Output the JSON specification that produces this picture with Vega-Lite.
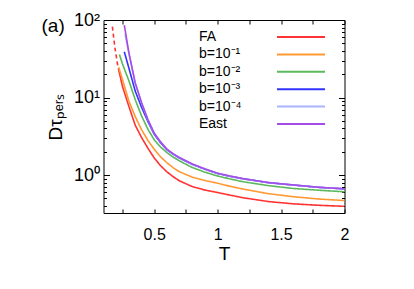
{
  "$schema": "https://vega.github.io/schema/vega-lite/v6.json",
  "width": 241,
  "height": 193,
  "autosize": {"type": "none"},
  "padding": {"left": 103.5, "top": 20, "right": 69.5, "bottom": 76},
  "background": "white",
  "config": {
    "font": "Liberation Sans",
    "view": {"stroke": "black", "strokeWidth": 1},
    "axis": {"domain": false, "grid": false, "tickColor": "black", "labelColor": "black", "titleColor": "black", "labelFont": "Liberation Sans", "titleFont": "Liberation Sans", "titleFontWeight": "normal"},
    "legend": {"labelFont": "Liberation Sans"}
  },
  "title": {"text": "(a)", "anchor": "start", "frame": "group", "dx": -62, "dy": 34, "fontSize": 19, "fontWeight": "normal", "font": "Liberation Sans", "offset": 0, "baseline": "middle", "color": "black"},
  "datasets": {
    "curves": [
      {"T": 0.17, "D": 82, "series": "FA", "segment": "dashed"},
      {"T": 0.19, "D": 44, "series": "FA", "segment": "dashed"},
      {"T": 0.212, "D": 26, "series": "FA", "segment": "dashed"},
      {"T": 0.217, "D": 23.8, "series": "FA", "segment": "solid"},
      {"T": 0.25, "D": 13.8, "series": "FA", "segment": "solid"},
      {"T": 0.3, "D": 7.7, "series": "FA", "segment": "solid"},
      {"T": 0.35, "D": 4.4, "series": "FA", "segment": "solid"},
      {"T": 0.4, "D": 3.05, "series": "FA", "segment": "solid"},
      {"T": 0.45, "D": 2.22, "series": "FA", "segment": "solid"},
      {"T": 0.5, "D": 1.66, "series": "FA", "segment": "solid"},
      {"T": 0.55, "D": 1.32, "series": "FA", "segment": "solid"},
      {"T": 0.6, "D": 1.1, "series": "FA", "segment": "solid"},
      {"T": 0.65, "D": 0.95, "series": "FA", "segment": "solid"},
      {"T": 0.7, "D": 0.84, "series": "FA", "segment": "solid"},
      {"T": 0.8, "D": 0.71, "series": "FA", "segment": "solid"},
      {"T": 0.9, "D": 0.64, "series": "FA", "segment": "solid"},
      {"T": 1.0, "D": 0.595, "series": "FA", "segment": "solid"},
      {"T": 1.1, "D": 0.55, "series": "FA", "segment": "solid"},
      {"T": 1.2, "D": 0.51, "series": "FA", "segment": "solid"},
      {"T": 1.4, "D": 0.455, "series": "FA", "segment": "solid"},
      {"T": 1.6, "D": 0.425, "series": "FA", "segment": "solid"},
      {"T": 1.8, "D": 0.407, "series": "FA", "segment": "solid"},
      {"T": 2.0, "D": 0.395, "series": "FA", "segment": "solid"},

      {"T": 0.22, "D": 24.5, "series": "b=10⁻¹", "segment": "solid"},
      {"T": 0.25, "D": 17, "series": "b=10⁻¹", "segment": "solid"},
      {"T": 0.3, "D": 9.0, "series": "b=10⁻¹", "segment": "solid"},
      {"T": 0.35, "D": 5.7, "series": "b=10⁻¹", "segment": "solid"},
      {"T": 0.4, "D": 3.85, "series": "b=10⁻¹", "segment": "solid"},
      {"T": 0.45, "D": 2.8, "series": "b=10⁻¹", "segment": "solid"},
      {"T": 0.5, "D": 2.15, "series": "b=10⁻¹", "segment": "solid"},
      {"T": 0.55, "D": 1.72, "series": "b=10⁻¹", "segment": "solid"},
      {"T": 0.6, "D": 1.44, "series": "b=10⁻¹", "segment": "solid"},
      {"T": 0.65, "D": 1.24, "series": "b=10⁻¹", "segment": "solid"},
      {"T": 0.7, "D": 1.1, "series": "b=10⁻¹", "segment": "solid"},
      {"T": 0.8, "D": 0.94, "series": "b=10⁻¹", "segment": "solid"},
      {"T": 0.9, "D": 0.85, "series": "b=10⁻¹", "segment": "solid"},
      {"T": 1.0, "D": 0.785, "series": "b=10⁻¹", "segment": "solid"},
      {"T": 1.1, "D": 0.715, "series": "b=10⁻¹", "segment": "solid"},
      {"T": 1.2, "D": 0.66, "series": "b=10⁻¹", "segment": "solid"},
      {"T": 1.4, "D": 0.575, "series": "b=10⁻¹", "segment": "solid"},
      {"T": 1.6, "D": 0.525, "series": "b=10⁻¹", "segment": "solid"},
      {"T": 1.8, "D": 0.49, "series": "b=10⁻¹", "segment": "solid"},
      {"T": 2.0, "D": 0.469, "series": "b=10⁻¹", "segment": "solid"},

      {"T": 0.225, "D": 36, "series": "b=10⁻²", "segment": "solid"},
      {"T": 0.25, "D": 27, "series": "b=10⁻²", "segment": "solid"},
      {"T": 0.3, "D": 16.5, "series": "b=10⁻²", "segment": "solid"},
      {"T": 0.35, "D": 9.4, "series": "b=10⁻²", "segment": "solid"},
      {"T": 0.4, "D": 5.8, "series": "b=10⁻²", "segment": "solid"},
      {"T": 0.45, "D": 3.9, "series": "b=10⁻²", "segment": "solid"},
      {"T": 0.5, "D": 2.85, "series": "b=10⁻²", "segment": "solid"},
      {"T": 0.55, "D": 2.3, "series": "b=10⁻²", "segment": "solid"},
      {"T": 0.6, "D": 1.95, "series": "b=10⁻²", "segment": "solid"},
      {"T": 0.65, "D": 1.7, "series": "b=10⁻²", "segment": "solid"},
      {"T": 0.7, "D": 1.52, "series": "b=10⁻²", "segment": "solid"},
      {"T": 0.8, "D": 1.25, "series": "b=10⁻²", "segment": "solid"},
      {"T": 0.9, "D": 1.09, "series": "b=10⁻²", "segment": "solid"},
      {"T": 1.0, "D": 0.97, "series": "b=10⁻²", "segment": "solid"},
      {"T": 1.1, "D": 0.89, "series": "b=10⁻²", "segment": "solid"},
      {"T": 1.2, "D": 0.82, "series": "b=10⁻²", "segment": "solid"},
      {"T": 1.4, "D": 0.73, "series": "b=10⁻²", "segment": "solid"},
      {"T": 1.6, "D": 0.67, "series": "b=10⁻²", "segment": "solid"},
      {"T": 1.8, "D": 0.637, "series": "b=10⁻²", "segment": "solid"},
      {"T": 2.0, "D": 0.608, "series": "b=10⁻²", "segment": "solid"},

      {"T": 0.264, "D": 39, "series": "b=10⁻³", "segment": "solid"},
      {"T": 0.3, "D": 24, "series": "b=10⁻³", "segment": "solid"},
      {"T": 0.35, "D": 12.1, "series": "b=10⁻³", "segment": "solid"},
      {"T": 0.4, "D": 7.5, "series": "b=10⁻³", "segment": "solid"},
      {"T": 0.45, "D": 4.9, "series": "b=10⁻³", "segment": "solid"},
      {"T": 0.5, "D": 3.35, "series": "b=10⁻³", "segment": "solid"},
      {"T": 0.55, "D": 2.6, "series": "b=10⁻³", "segment": "solid"},
      {"T": 0.6, "D": 2.12, "series": "b=10⁻³", "segment": "solid"},
      {"T": 0.65, "D": 1.85, "series": "b=10⁻³", "segment": "solid"},
      {"T": 0.7, "D": 1.65, "series": "b=10⁻³", "segment": "solid"},
      {"T": 0.8, "D": 1.37, "series": "b=10⁻³", "segment": "solid"},
      {"T": 0.9, "D": 1.19, "series": "b=10⁻³", "segment": "solid"},
      {"T": 1.0, "D": 1.045, "series": "b=10⁻³", "segment": "solid"},
      {"T": 1.1, "D": 0.96, "series": "b=10⁻³", "segment": "solid"},
      {"T": 1.2, "D": 0.895, "series": "b=10⁻³", "segment": "solid"},
      {"T": 1.4, "D": 0.797, "series": "b=10⁻³", "segment": "solid"},
      {"T": 1.6, "D": 0.742, "series": "b=10⁻³", "segment": "solid"},
      {"T": 1.8, "D": 0.693, "series": "b=10⁻³", "segment": "solid"},
      {"T": 2.0, "D": 0.663, "series": "b=10⁻³", "segment": "solid"},

      {"T": 0.27, "D": 66, "series": "b=10⁻⁴", "segment": "solid"},
      {"T": 0.3, "D": 37, "series": "b=10⁻⁴", "segment": "solid"},
      {"T": 0.35, "D": 15.2, "series": "b=10⁻⁴", "segment": "solid"},
      {"T": 0.4, "D": 8.5, "series": "b=10⁻⁴", "segment": "solid"},
      {"T": 0.45, "D": 5.15, "series": "b=10⁻⁴", "segment": "solid"},
      {"T": 0.5, "D": 3.45, "series": "b=10⁻⁴", "segment": "solid"},
      {"T": 0.55, "D": 2.66, "series": "b=10⁻⁴", "segment": "solid"},
      {"T": 0.6, "D": 2.15, "series": "b=10⁻⁴", "segment": "solid"},
      {"T": 0.65, "D": 1.87, "series": "b=10⁻⁴", "segment": "solid"},
      {"T": 0.7, "D": 1.67, "series": "b=10⁻⁴", "segment": "solid"},
      {"T": 0.8, "D": 1.38, "series": "b=10⁻⁴", "segment": "solid"},
      {"T": 0.9, "D": 1.2, "series": "b=10⁻⁴", "segment": "solid"},
      {"T": 1.0, "D": 1.05, "series": "b=10⁻⁴", "segment": "solid"},
      {"T": 1.1, "D": 0.965, "series": "b=10⁻⁴", "segment": "solid"},
      {"T": 1.2, "D": 0.898, "series": "b=10⁻⁴", "segment": "solid"},
      {"T": 1.4, "D": 0.799, "series": "b=10⁻⁴", "segment": "solid"},
      {"T": 1.6, "D": 0.744, "series": "b=10⁻⁴", "segment": "solid"},
      {"T": 1.8, "D": 0.694, "series": "b=10⁻⁴", "segment": "solid"},
      {"T": 2.0, "D": 0.664, "series": "b=10⁻⁴", "segment": "solid"},

      {"T": 0.264, "D": 86, "series": "East", "segment": "solid"},
      {"T": 0.3, "D": 38, "series": "East", "segment": "solid"},
      {"T": 0.35, "D": 15.5, "series": "East", "segment": "solid"},
      {"T": 0.4, "D": 8.6, "series": "East", "segment": "solid"},
      {"T": 0.45, "D": 5.2, "series": "East", "segment": "solid"},
      {"T": 0.5, "D": 3.47, "series": "East", "segment": "solid"},
      {"T": 0.55, "D": 2.68, "series": "East", "segment": "solid"},
      {"T": 0.6, "D": 2.16, "series": "East", "segment": "solid"},
      {"T": 0.65, "D": 1.88, "series": "East", "segment": "solid"},
      {"T": 0.7, "D": 1.68, "series": "East", "segment": "solid"},
      {"T": 0.8, "D": 1.39, "series": "East", "segment": "solid"},
      {"T": 0.9, "D": 1.2, "series": "East", "segment": "solid"},
      {"T": 1.0, "D": 1.055, "series": "East", "segment": "solid"},
      {"T": 1.1, "D": 0.97, "series": "East", "segment": "solid"},
      {"T": 1.2, "D": 0.9, "series": "East", "segment": "solid"},
      {"T": 1.4, "D": 0.8, "series": "East", "segment": "solid"},
      {"T": 1.6, "D": 0.745, "series": "East", "segment": "solid"},
      {"T": 1.8, "D": 0.695, "series": "East", "segment": "solid"},
      {"T": 2.0, "D": 0.665, "series": "East", "segment": "solid"}
    ]
  },
  "data": {"name": "curves"},
  "layer": [
    {
      "mark": {"type": "line", "strokeWidth": 1.6, "clip": true},
      "encoding": {
        "x": {
          "field": "T", "type": "quantitative",
          "scale": {"domain": [0.1, 2], "nice": false, "zero": false},
          "axis": {
            "orient": "bottom", "title": "T", "titleFontSize": 19, "titlePadding": 2,
            "values": [0.25, 0.5, 0.75, 1, 1.25, 1.5, 1.75, 2],
            "format": ".2~f",
            "labelExpr": "(datum.value * 2) % 1 == 0 ? datum.label : ''",
            "labelFontSize": 16, "labelPadding": 17, "tickSize": -4, "labelFlush": false
          }
        },
        "y": {
          "field": "D", "type": "quantitative",
          "scale": {"type": "log", "domain": [0.324, 100], "nice": false},
          "axis": {
            "orient": "left", "title": "Dτₚₑᵣₛ", "titleFontSize": 19, "titlePadding": 8,
            "values": [0.4, 0.5, 0.6, 0.7, 0.8, 0.9, 1, 2, 3, 4, 5, 6, 7, 8, 9, 10, 20, 30, 40, 50, 60, 70, 80, 90, 100],
            "labelExpr": "datum.value == 1 ? '10⁰' : datum.value == 10 ? '10¹' : datum.value == 100 ? '10²' : ''",
            "labelFontSize": 18, "labelPadding": 10, "labelFlush": false,
            "tickSize": {"condition": {"test": "datum.value == 1 || datum.value == 10 || datum.value == 100", "value": -6}, "value": -3}
          }
        },
        "color": {
          "field": "series", "type": "nominal",
          "scale": {
            "domain": ["FA", "b=10⁻¹", "b=10⁻²", "b=10⁻³", "b=10⁻⁴", "East"],
            "range": ["#ff3333", "#ff9933", "#5cb85c", "#3333ff", "#a9b4ff", "#a64ce6"]
          },
          "legend": {
            "title": null, "orient": "none", "legendX": 190.5, "legendY": 10,
            "symbolType": "M-4.8,0H4.8", "symbolSize": 100, "symbolStrokeWidth": 2,
            "symbolFillColor": "transparent",
            "labelFontSize": 14, "labelOffset": -109, "labelAlign": "left",
            "rowPadding": 3.4, "labelColor": "black"
          }
        },
        "strokeDash": {
          "field": "segment", "type": "nominal",
          "scale": {"domain": ["solid", "dashed"], "range": [[1, 0], [4, 3]]},
          "legend": null
        },
        "order": {"field": "T", "type": "quantitative"}
      }
    },
    {
      "mark": {"type": "point", "opacity": 0},
      "encoding": {
        "x": {
          "field": "T", "type": "quantitative",
          "axis": {"orient": "top", "title": null, "labels": false, "values": [0.25, 0.5, 0.75, 1, 1.25, 1.5, 1.75, 2], "tickSize": -4}
        },
        "y": {
          "field": "D", "type": "quantitative",
          "axis": {
            "orient": "right", "title": null, "labels": false,
            "values": [0.4, 0.5, 0.6, 0.7, 0.8, 0.9, 1, 2, 3, 4, 5, 6, 7, 8, 9, 10, 20, 30, 40, 50, 60, 70, 80, 90, 100],
            "tickSize": {"condition": {"test": "datum.value == 1 || datum.value == 10 || datum.value == 100", "value": -6}, "value": -3}
          }
        }
      }
    }
  ],
  "resolve": {"axis": {"x": "independent", "y": "independent"}}
}
